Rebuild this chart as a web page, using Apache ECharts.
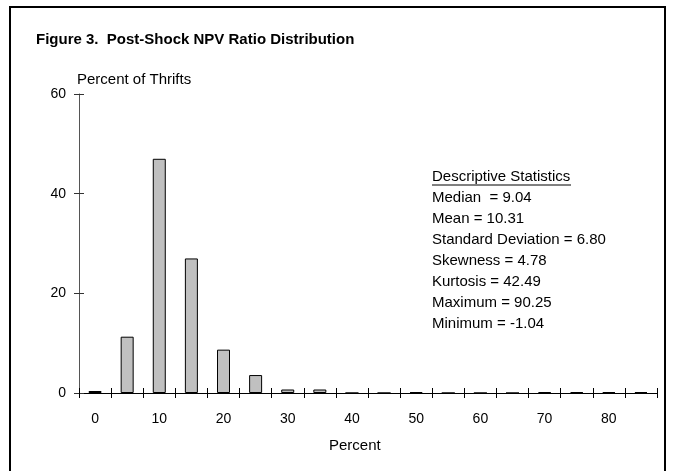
<!DOCTYPE html>
<html>
<head>
<meta charset="utf-8">
<script src="https://cdn.jsdelivr.net/npm/echarts@6/dist/echarts.min.js"></script>
<style>
  html, body { margin: 0; padding: 0; background: #fff; }
  #chart { width: 673px; height: 471px; }
</style>
</head>
<body>
<div id="chart"></div>
<script>
// bins of 5 percentage points
const bins = ['0', '5', '10', '15', '20', '25', '30', '35', '40', '45', '50', '55', '60', '65', '70', '75', '80', '85'];
const percentOfThrifts = [0.4, 11.3, 47.0, 27.0, 8.7, 3.6, 0.7, 0.7, 0, 0, 0.2, 0, 0, 0, 0.2, 0.2, 0.2, 0.2];
const yTicks = [0, 20, 40, 60];

const statsTitle = 'Descriptive Statistics';
const statLabels = ['Median ', 'Mean', 'Standard Deviation', 'Skewness', 'Kurtosis', 'Maximum', 'Minimum'];
const statValues = ['9.04', '10.31', '6.80', '4.78', '42.49', '90.25', '-1.04'];

const FONT = '"Liberation Sans", Arial, sans-serif';

const chart = echarts.init(document.getElementById('chart'), null, { renderer: 'canvas' });

// the second axis is shifted 5px into the plot so its outside ticks
// form the inner half of a tick that crosses the axis line
function xAx(main) {
  return {
    type: 'category',
    position: 'bottom',
    offset: main ? 0 : -5,
    data: bins,
    boundaryGap: true,
    axisLine: { show: main, onZero: false, lineStyle: { color: '#000', width: 1 } },
    axisTick: { show: true, length: 5, interval: 0, lineStyle: { color: '#000' } },
    axisLabel: {
      show: main, interval: 1, margin: 19,
      color: '#000', fontSize: 14, fontFamily: FONT
    }
  };
}
function yAx(main) {
  return {
    type: 'value',
    position: 'left',
    offset: main ? 0 : -5,
    min: yTicks[0],
    max: yTicks[yTicks.length - 1],
    interval: 20,
    axisLine: { show: main, onZero: false, lineStyle: { color: '#555', width: 1 } },
    axisTick: { show: true, length: 5, lineStyle: { color: '#333' } },
    axisLabel: { show: main, margin: 13, color: '#000', fontSize: 14, fontFamily: FONT },
    splitLine: { show: false }
  };
}

const statLines = [];
statLabels.forEach(function (lab, i) {
  statLines.push({
    type: 'text',
    left: 432,
    top: 190 + i * 21,
    style: { text: lab + ' = ' + statValues[i], fill: '#000', font: '15px ' + FONT }
  });
});

const option = {
  animation: false,
  backgroundColor: '#fff',
  grid: { left: 79, right: 16, top: 94, bottom: 78, containLabel: false },
  xAxis: [xAx(true), xAx(false)],
  yAxis: [yAx(true), yAx(false)],
  series: [{
    type: 'bar',
    data: percentOfThrifts,
    xAxisIndex: 0,
    yAxisIndex: 0,
    barWidth: 13,
    itemStyle: { color: '#c0c0c0', borderColor: '#000', borderWidth: 1 }
  }],
  graphic: [
    // frame
    {
      type: 'rect',
      shape: { x: 10, y: 7, width: 655, height: 480 },
      style: { fill: 'none', stroke: '#000', lineWidth: 2 },
      z: 10
    },
    {
      type: 'text',
      left: 36,
      top: 32,
      style: { text: 'Figure 3.  Post-Shock NPV Ratio Distribution', fill: '#000', font: 'bold 15px ' + FONT }
    },
    {
      type: 'text',
      left: 77,
      top: 72,
      style: { text: 'Percent of Thrifts', fill: '#000', font: '15px ' + FONT }
    },
    {
      type: 'text',
      left: 329,
      top: 438,
      style: { text: 'Percent', fill: '#000', font: '15px ' + FONT }
    },
    {
      type: 'text',
      left: 432,
      top: 169,
      style: { text: statsTitle, fill: '#000', font: '15px ' + FONT }
    },
    {
      type: 'line',
      shape: { x1: 432, y1: 185, x2: 571, y2: 185 },
      style: { stroke: '#000', lineWidth: 1 }
    }
  ].concat(statLines)
};

chart.setOption(option);
</script>
</body>
</html>
